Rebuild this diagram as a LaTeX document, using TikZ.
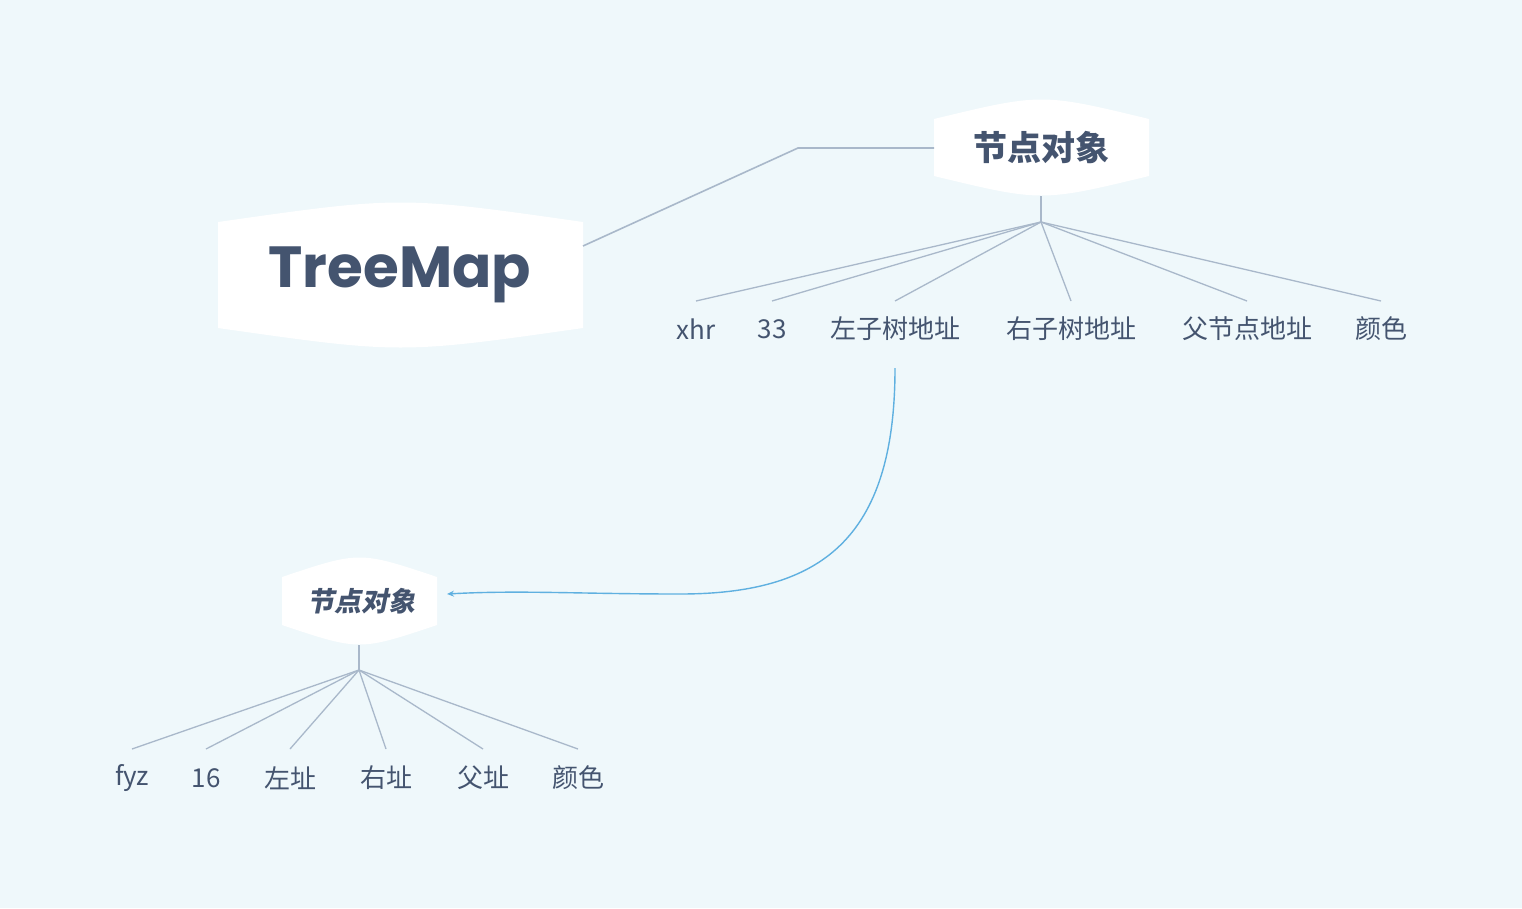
\documentclass[tikz,border=0pt]{standalone}
\usepackage{fontspec}
\setmainfont{Noto Sans CJK SC}
\newfontfamily\lat{Poppins}
\newfontfamily\cjkit[FakeSlant=0.2]{Noto Sans CJK SC}
\usetikzlibrary{arrows.meta}
\definecolor{bg}{HTML}{EFF8FB}
\definecolor{tx}{HTML}{44546F}
\definecolor{ln}{HTML}{A9B8CA}
\definecolor{ar}{HTML}{5FB0E0}
\begin{document}
\begin{tikzpicture}[x=1pt,y=-1pt,
  lbl/.style={text=tx,font=\fontsize{26}{28}\selectfont,inner sep=0pt,anchor=center},
  conn/.style={draw=ln,line width=1.6pt}]
\useasboundingbox[fill=bg] (0,0) rectangle (1522,908);
% shapes
\newcommand\blob[4]{% x1,y1,x2,y2
  \fill[white] (#1,#2+20) .. controls ({(#1+#3)/2},#2-6) .. (#3,#2+20)
    -- (#3,#4-20) .. controls ({(#1+#3)/2},#4+6) .. (#1,#4-20) -- cycle;}
\blob{218}{202}{583}{348}
\blob{934}{99}{1149}{196}
\blob{282}{557}{437}{645}
\node[text=tx,font=\lat\bfseries\fontsize{58}{60}\selectfont] (tm) at (400,275) {TreeMap};
\node[text=tx,font=\bfseries\fontsize{34}{36}\selectfont] (n1) at (1041,148) {节点对象};
\node[text=tx,font=\cjkit\bfseries\fontsize{27}{29}\selectfont] (n2) at (361,601) {节点对象};
\coordinate (tmr) at (583,246);
\coordinate (n1l) at (934,148);
\coordinate (n1b) at (1041,196);
\coordinate (h1) at (1041,222);
\coordinate (n2b) at (359,645);
\coordinate (h2) at (359,670);
\draw[conn] (tmr) -- (798,148) -- (n1l);
\draw[conn] (n1b) -- (h1);
\draw[conn] (n2b) -- (h2);
\foreach \x/\t/\n in {696/xhr/a1,772/33/a2,895/左子树地址/a3,1071/右子树地址/a4,1247/父节点地址/a5,1381/颜色/a6}{
  \node[lbl] (\n) at (\x,329) {\t};
  \coordinate (\n t) at (\x,301);
  \draw[conn,line width=1.3pt] (h1) -- (\n t);
}
\foreach \x/\t/\n in {132/fyz/b1,206/16/b2,290/左址/b3,386/右址/b4,483/父址/b5,578/颜色/b6}{
  \node[lbl] (\n) at (\x,778) {\t};
  \coordinate (\n t) at (\x,749);
  \draw[conn,line width=1.3pt] (h2) -- (\n t);
}
\coordinate (cs) at (895,368);
\coordinate (ce) at (447,594);
\draw[ar,line width=1.4pt,-{Stealth[length=7pt,width=6pt]}] (cs) .. controls (895,540) and (820,594) .. (680,594) .. controls (580,594) and (520,590) .. (ce);
\end{tikzpicture}
\end{document}
